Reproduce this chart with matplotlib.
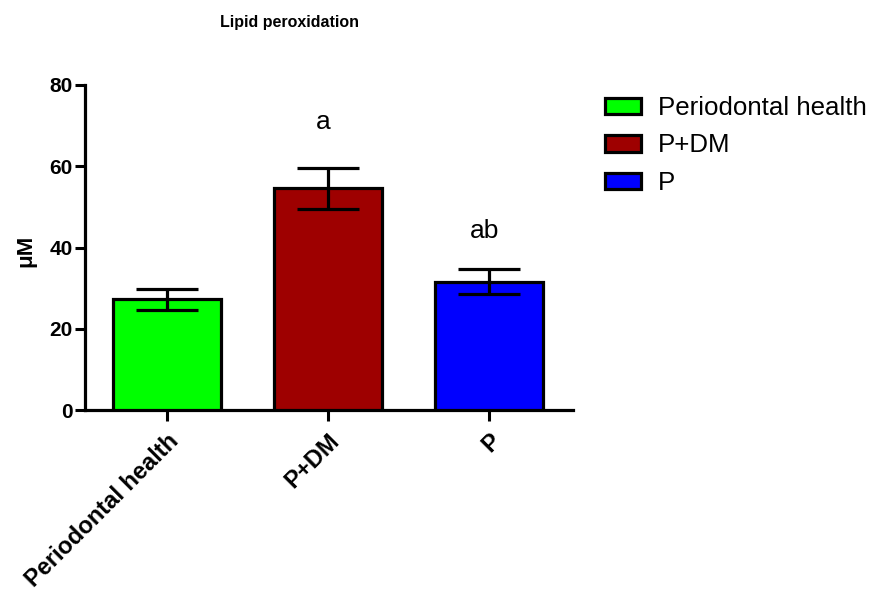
import matplotlib.pyplot as plt
from matplotlib.patches import Patch

groups = ["Periodontal health", "P+DM", "P"]
means = [27.3, 54.6, 31.6]
errors = [2.6, 5.0, 3.0]
colors = ["#00FF00", "#9E0000", "#0000FF"]
letters = ["", "a", "ab"]
letter_y = [0, 71, 44]

plt.rcParams["font.family"] = ["Liberation Sans", "DejaVu Sans"]

fig = plt.figure(figsize=(8.73, 5.94), dpi=100)
ax = fig.add_axes([85 / 873, 1 - 410 / 594, 488 / 873, 325 / 594])

x = range(len(groups))
ax.bar(x, means, width=0.67, color=colors, edgecolor="black", linewidth=2.3, zorder=3)
ax.errorbar(x, means, yerr=errors, fmt="none", ecolor="black", elinewidth=2.3,
            capsize=22, capthick=2.3, zorder=4)

for i, (t, yy) in enumerate(zip(letters, letter_y)):
    if t:
        ax.text(i - 0.03, yy, t, ha="center", va="center", fontsize=19)

ax.set_xlim(-0.506, 2.52)
ax.set_ylim(0, 80)
ax.set_yticks([0, 20, 40, 60, 80])
ax.set_xticks(list(x))
ax.set_xticklabels(groups, rotation=45, ha="right", rotation_mode="anchor",
                   fontsize=17, fontweight="bold")
for lab in ax.get_yticklabels():
    lab.set_fontsize(15)
    lab.set_fontweight("bold")
ax.tick_params(axis="y", direction="out", length=7, width=2.2, pad=2)
ax.tick_params(axis="x", direction="out", length=8, width=2.2, pad=6)

for s in ["top", "right"]:
    ax.spines[s].set_visible(False)
for s in ["left", "bottom"]:
    ax.spines[s].set_linewidth(2.3)

ax.set_ylabel("\u03bcM", fontsize=16, fontweight="bold")
ax.yaxis.set_label_coords(-0.10, 0.49)

fig.text(290 / 873, 1 - 22 / 594, "Lipid peroxidation", ha="center", va="center",
         fontsize=11.5, fontweight="bold")

handles = [Patch(facecolor=c, edgecolor="black", linewidth=2.3) for c in colors]
fig.legend(handles, groups, loc="upper left", bbox_to_anchor=(605 / 873, 1 - 96 / 594),
           frameon=False, fontsize=18.6, handlelength=1.4, handleheight=0.6,
           handletextpad=0.65, labelspacing=0.52, borderpad=0, borderaxespad=0)

fig.savefig("out.png", dpi=100)
